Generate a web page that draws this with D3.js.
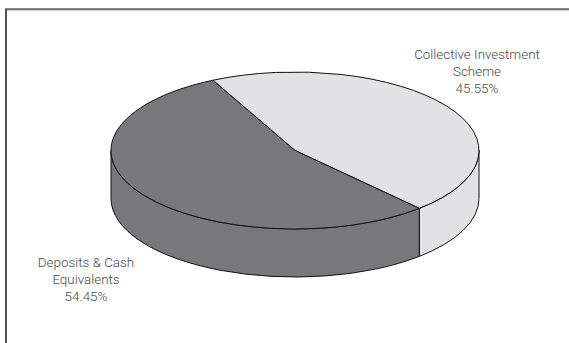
<!DOCTYPE html>
<html>
<head>
<meta charset="utf-8">
<script src="https://cdn.jsdelivr.net/npm/d3@7"></script>
<style>
  body { margin: 0; background: #fff; }
  svg { display: block; }
  .label { font-family: Roboto, "Liberation Sans Narrow", sans-serif; font-size: 13.4px; fill: #4a4a4a; font-weight: 300; }
</style>
</head>
<body>
<div id="chart"></div>
<script>
// data
const categories = ["Collective Investment Scheme", "Deposits & Cash Equivalents"];
const values = [45.55, 54.45];
const labelLines = [
    ["Collective Investment", "Scheme", "45.55%"],
    ["Deposits & Cash", "Equivalents", "54.45%"]
];
const colors = ["#e1e2e4", "#77787c"];

let width = 569,
    height = 343;

// pie geometry (flattened disc)
let cx = 295, cy = 150.5,
    rx = 184, ry = 78.5,
    depth = 48;

let svg = d3.select("#chart")
    .append("svg")
    .attr("width", width)
    .attr("height", height);

// frame, top and left edges only
svg.append("line")
    .attr("x1", 5).attr("x2", width)
    .attr("y1", 10).attr("y2", 10)
    .attr("stroke", "#aaa").attr("stroke-width", 1);
svg.append("line")
    .attr("x1", 5).attr("x2", width)
    .attr("y1", 9).attr("y2", 9)
    .attr("stroke", "#111").attr("stroke-width", 1.2);
svg.append("line")
    .attr("x1", 6).attr("x2", 6)
    .attr("y1", 9).attr("y2", height)
    .attr("stroke", "#555").attr("stroke-width", 2);

let data = categories.map((c, i) => ({ name: c, value: values[i], color: colors[i], lines: labelLines[i] }));

// start of light slice is a bit left of top
const pie = d3.pie()
    .sort(null)
    .value(d => d.value)
    .startAngle(-26.5 * Math.PI / 180)
    .endAngle((360 - 26.5) * Math.PI / 180);

let arcs = pie(data);

// point on the ellipse, angle clockwise from top
function pt(a, dy) {
    return [cx + rx * Math.sin(a), cy - ry * Math.cos(a) + (dy || 0)];
}

// side walls: only the front half (PI/2 .. 3PI/2) shows
let sideG = svg.append("g");
arcs.forEach(d => {
    let a0 = Math.max(d.startAngle, Math.PI / 2),
        a1 = Math.min(d.endAngle, 3 * Math.PI / 2);
    if (a1 <= a0) return;
    let p0 = pt(a0), p1 = pt(a1), q1 = pt(a1, depth), q0 = pt(a0, depth);
    let large = (a1 - a0) > Math.PI ? 1 : 0;
    let path = "M" + p0 + " A" + rx + "," + ry + " 0 " + large + " 1 " + p1 +
        " L" + q1 + " A" + rx + "," + ry + " 0 " + large + " 0 " + q0 + " Z";
    sideG.append("path")
        .attr("d", path)
        .attr("fill", d.data.color)
        .attr("stroke", "#111")
        .attr("stroke-width", 1)
        .attr("stroke-linejoin", "round");
});

// top face
const arc = d3.arc()
    .innerRadius(0)
    .outerRadius(rx);

svg.append("g")
    .attr("transform", "translate(" + cx + "," + cy + ") scale(1," + (ry / rx) + ")")
    .selectAll("path")
    .data(arcs)
    .enter().append("path")
    .attr("d", arc)
    .attr("fill", d => d.data.color)
    .attr("stroke", "#111")
    .attr("stroke-width", 1)
    .attr("stroke-linejoin", "round")
    .attr("vector-effect", "non-scaling-stroke");

// labels
const labelPos = [[477, 59], [86, 267]];
data.forEach((d, i) => {
    let t = svg.append("text")
        .attr("class", "label")
        .attr("text-anchor", "middle")
        .attr("x", labelPos[i][0])
        .attr("y", labelPos[i][1]);
    d.lines.forEach((l, j) => {
        t.append("tspan")
            .attr("x", labelPos[i][0])
            .attr("dy", j === 0 ? 0 : 17)
            .text(l);
    });
});
</script>
</body>
</html>
